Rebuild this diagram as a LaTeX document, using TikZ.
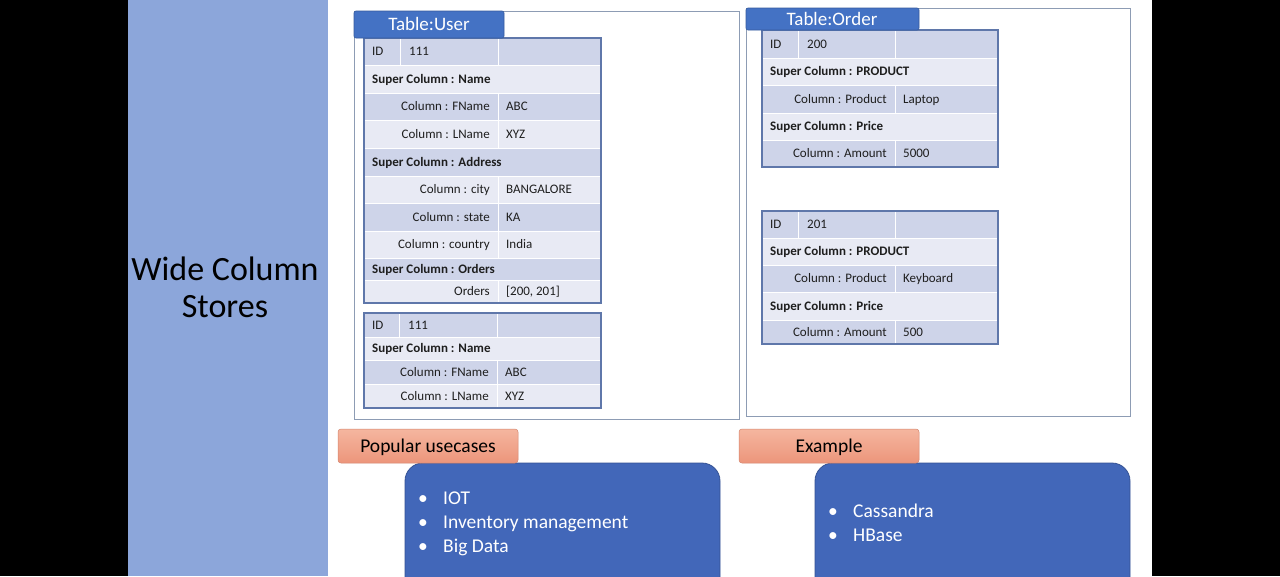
\documentclass[tikz,border=0pt]{standalone}
\usepackage{fontspec}
\setmainfont{Carlito}
\definecolor{panel}{HTML}{8CA6DA}
\definecolor{tabblue}{HTML}{4472C4}
\definecolor{rowdk}{HTML}{CED4E9}
\definecolor{rowlt}{HTML}{E8EAF4}
\definecolor{tbord}{HTML}{5F77AA}
\definecolor{frame}{HTML}{8D9CB4}
\definecolor{bluebox}{HTML}{4267B9}
\definecolor{salmontop}{HTML}{F5B69F}
\definecolor{salmonbot}{HTML}{EC957B}
\definecolor{txtc}{HTML}{1E1E1E}
\tikzset{
  sep/.style={draw=white,line width=1pt},
  tx/.style={font=\fontsize{13}{15}\selectfont,inner sep=0pt,text=txtc},
  bt/.style={tx,font=\fontsize{13}{15}\selectfont\bfseries},
  tborder/.style={draw=tbord,line width=1.1pt},
  framebox/.style={draw=frame,line width=1pt},
  tabtitle/.style={fill=tabblue,draw=tabblue!80!black,line width=0.6pt,rounded corners=2pt},
  tabtext/.style={text=white,font=\fontsize{19}{22}\selectfont,inner sep=0pt},
  salmon/.style={top color=salmontop,bottom color=salmonbot,draw=salmonbot!90!black,line width=0.5pt,rounded corners=3pt},
  saltext/.style={text=black,font=\fontsize{19.5}{23}\selectfont,inner sep=0pt},
  bluerect/.style={fill=bluebox,draw=bluebox!80!black,line width=0.8pt,rounded corners=18pt},
  btext/.style={text=white,font=\fontsize{19.5}{23}\selectfont,inner sep=0pt,anchor=base west},
  dk/.style={fill=rowdk},
  lt/.style={fill=rowlt}
}
\newcommand\idrow[5]{%
  \fill[#4] (\tabL,#2) rectangle (\tabR,#3);
  \draw[sep] (\tabL,#2) -- (\tabR,#2) (\tabI,#2) -- (\tabI,#3) (\tabM,#2) -- (\tabM,#3);
  \node[tx,anchor=base west] (#1a) at (\tabL+8,{(#2+#3)/2+4.3}) {ID};
  \node[tx,anchor=base west] (#1b) at (\tabI+9,{(#2+#3)/2+4.3}) {#5};}
\newcommand\fullrow[5]{%
  \fill[#4] (\tabL,#2) rectangle (\tabR,#3);
  \draw[sep] (\tabL,#2) -- (\tabR,#2);
  \node[bt,anchor=base west] (#1) at (\tabL+8,{(#2+#3)/2+4.3}) {#5};}
\newcommand\splitrow[6]{%
  \fill[#4] (\tabL,#2) rectangle (\tabR,#3);
  \draw[sep] (\tabL,#2) -- (\tabR,#2) (\tabM,#2) -- (\tabM,#3);
  \node[tx,anchor=base east] (#1a) at (\tabM-8,{(#2+#3)/2+4.3}) {#5};
  \node[tx,anchor=base west] (#1b) at (\tabM+8,{(#2+#3)/2+4.3}) {#6};}
\begin{document}
\begin{tikzpicture}[x=1pt,y=-1pt]
\useasboundingbox (0,0) rectangle (1280,576);
\fill[black] (0,0) rectangle (1280,576);
\fill[white] (328,0) rectangle (1152,576);
\fill[panel] (128,0) rectangle (328,576);
\node[font=\fontsize{34}{37}\selectfont,align=center,text=black,inner sep=0pt] (title) at (225,287) {Wide Column\\Stores};

% ---- Table:User frame
\draw[framebox] (354,11) rectangle (739,419);
% user table 1
\def\tabL{364}\def\tabR{601}\def\tabI{400}\def\tabM{498}
\idrow{ua}{38}{65}{dk}{111}
\fullrow{ub}{65}{93}{lt}{Super Column : Name}
\splitrow{uc}{93}{120}{dk}{Column : FName}{ABC}
\splitrow{ud}{120}{148}{lt}{Column : LName}{XYZ}
\fullrow{ue}{148}{176}{dk}{Super Column : Address}
\splitrow{uf}{176}{203}{lt}{Column : city}{BANGALORE}
\splitrow{ug}{203}{231}{dk}{Column : state}{KA}
\splitrow{uh}{231}{258}{lt}{Column : country}{India}
\fullrow{ui}{258}{280}{dk}{Super Column : Orders}
\splitrow{uj}{280}{303}{lt}{Orders}{[200, 201]}
\draw[tborder] (\tabL,38) rectangle (\tabR,303);
% user table 2
\def\tabI{399}\def\tabM{497}
\idrow{va}{313}{337}{dk}{111}
\fullrow{vb}{337}{360}{lt}{Super Column : Name}
\splitrow{vc}{360}{384}{dk}{Column : FName}{ABC}
\splitrow{vd}{384}{408}{lt}{Column : LName}{XYZ}
\draw[tborder] (\tabL,313) rectangle (\tabR,408);
% title tab
\draw[tabtitle] (354,11) rectangle (504,38);
\node[tabtext] (tuser) at (429,24) {Table:User};

% ---- Table:Order frame
\draw[framebox] (746,8) rectangle (1130,416);
\def\tabL{762}\def\tabR{998}\def\tabI{798}\def\tabM{895}
\idrow{oa}{30}{58}{dk}{200}
\fullrow{ob}{58}{85}{lt}{Super Column : PRODUCT}
\splitrow{oc}{85}{113}{dk}{Column : Product}{Laptop}
\fullrow{od}{113}{140}{lt}{Super Column : Price}
\splitrow{oe}{140}{167}{dk}{Column : Amount}{5000}
\draw[tborder] (\tabL,30) rectangle (\tabR,167);
\idrow{pa}{211}{238}{dk}{201}
\fullrow{pb}{238}{265}{lt}{Super Column : PRODUCT}
\splitrow{pc}{265}{292}{dk}{Column : Product}{Keyboard}
\fullrow{pd}{292}{320}{lt}{Super Column : Price}
\splitrow{pe}{320}{344}{dk}{Column : Amount}{500}
\draw[tborder] (\tabL,211) rectangle (\tabR,344);
\draw[tabtitle] (746,8) rectangle (919,30);
\node[tabtext] (torder) at (832,19) {Table:Order};

% ---- bottom boxes
\draw[bluerect] (405,463) rectangle (720,600);
\node[btext] (b1) at (418,504.5) {•};
\node[btext] (i1) at (443,504.5) {IOT};
\node[btext] (b2) at (418,528.5) {•};
\node[btext] (i2) at (443,528.5) {Inventory management};
\node[btext] (b3) at (418,552.5) {•};
\node[btext] (i3) at (443,552.5) {Big Data};
\draw[salmon] (338,429) rectangle (518,463);
\node[saltext] (uses) at (428,447) {Popular usecases};

\draw[bluerect] (815,463) rectangle (1130,600);
\node[btext] (c1) at (828,517.5) {•};
\node[btext] (e1) at (853,517.5) {Cassandra};
\node[btext] (c2) at (828,541.5) {•};
\node[btext] (e2) at (853,541.5) {HBase};
\draw[salmon] (739,429) rectangle (919,463);
\node[saltext] (ex) at (829,447) {Example};
\end{tikzpicture}
\end{document}
